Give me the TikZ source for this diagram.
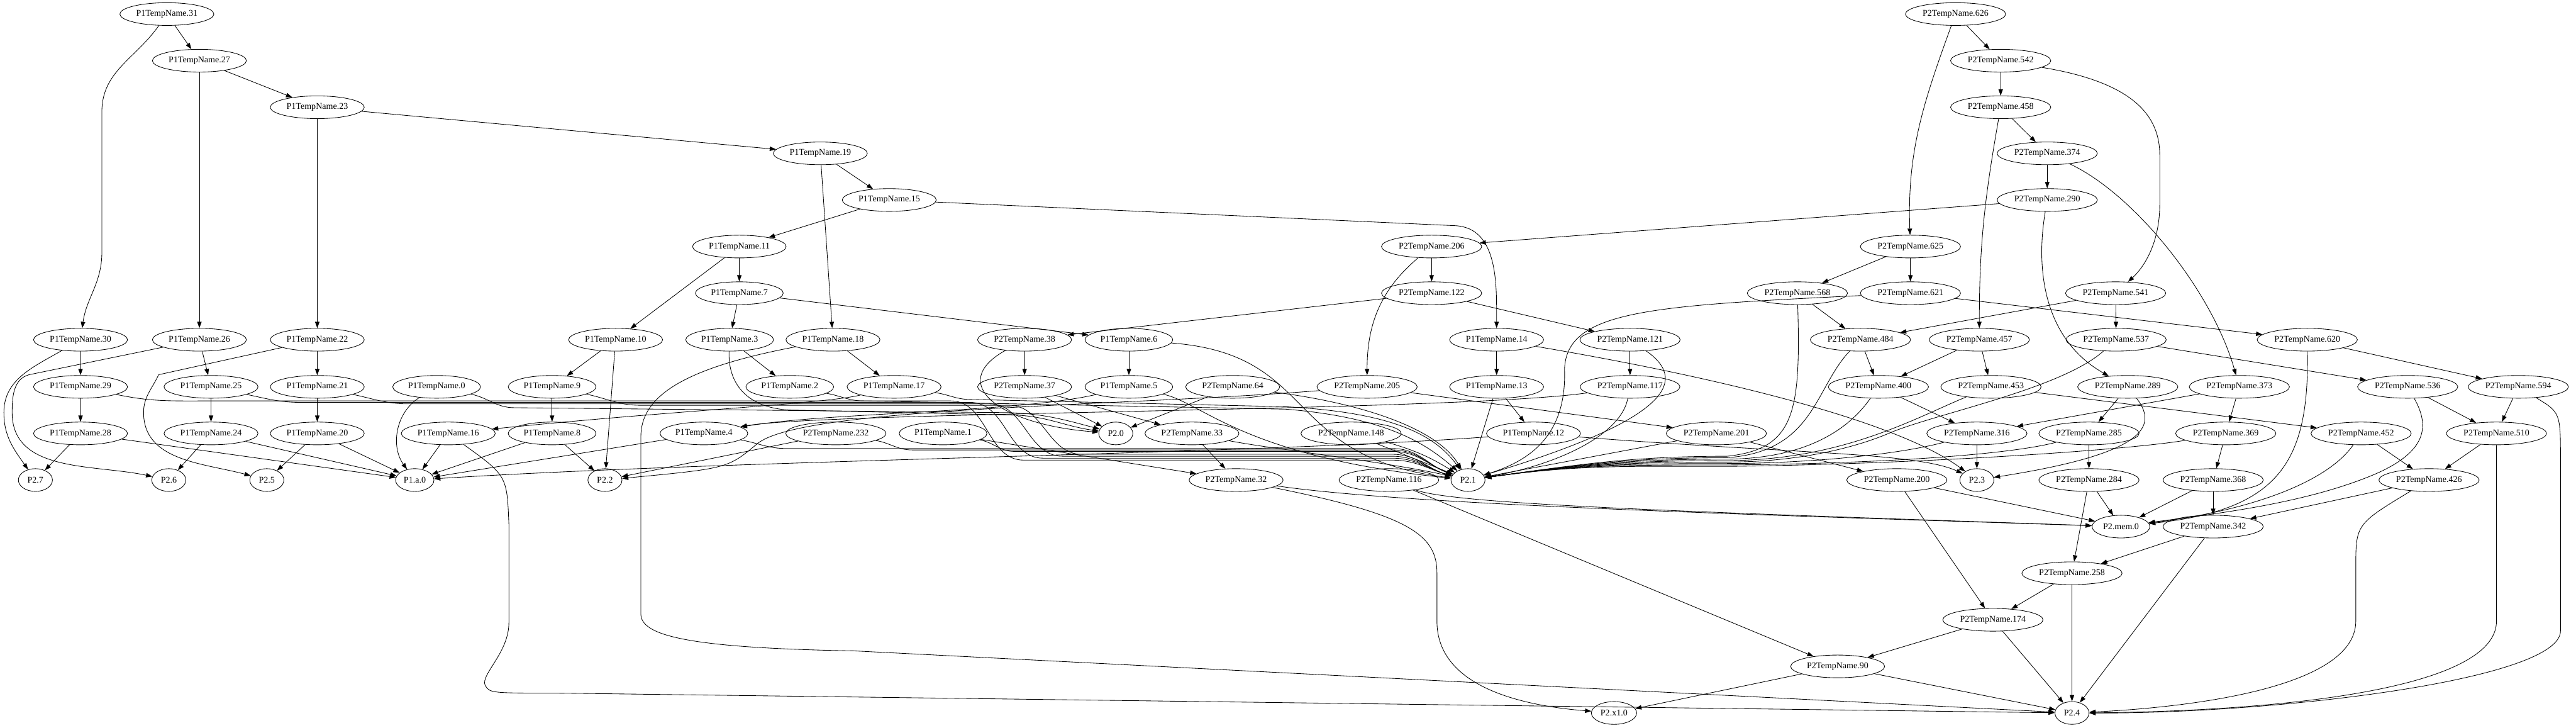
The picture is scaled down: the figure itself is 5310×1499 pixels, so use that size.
\documentclass[tikz,border=0pt]{standalone}
\usepackage{fontspec}
\setmainfont{Liberation Serif}
\usetikzlibrary{shapes.geometric, arrows.meta}

\begin{document}
\begin{tikzpicture}[x=0.7692pt, y=0.7692pt,
    tmp/.style={draw, ellipse, line width=0.85pt, minimum width=54pt, minimum height=36pt,
      inner xsep=4pt, inner ysep=1pt, font=\fontsize{14pt}{16pt}\selectfont},
    edge/.style={line width=0.85pt, -{Triangle[length=10pt, width=7pt]}}]

\path[use as bounding box] (0,0) rectangle (5310,-1499);

\foreach \n/\x/\y in {31/344/29, 27/411/125, 23/654/221, 19/1691/316, 15/1833/412,
    11/1524/508, 7/1524/604, 30/166/700, 26/411/700, 22/654/700, 10/1269/700,
    3/1504/700, 18/1717/700, 6/2327/700, 14/3085/700, 29/166/797, 25/435/797,
    21/654/797, 0/900/797, 9/1138/797, 2/1628/797, 17/1843/797, 5/2327/797,
    13/3085/797, 28/166/893, 24/435/893, 20/654/893, 16/924/893, 8/1138/893,
    4/1451/893, 1/1944/893, 12/3161/893}
  \node[tmp] (a\n) at (\x,-\y) {P1TempName.\n};

\foreach \n/\x/\y in {626/4031/29, 542/4124/125, 458/4124/221, 374/4220/316,
    290/4220/412, 206/2951/508, 625/3938/508, 122/2951/604, 568/3705/604,
    621/3938/604, 541/4361/604, 38/2112/700, 121/3360/700, 484/3835/700,
    457/4080/700, 537/4362/700, 620/4756/700, 37/2112/797, 64/2541/797,
    205/2818/797, 117/3360/797, 400/3872/797, 453/4104/797, 289/4386/797,
    373/4616/797, 536/4963/797, 594/5191/797, 232/1723/893, 33/2457/893,
    148/2785/893, 201/3538/893, 316/4075/893, 285/4306/893, 369/4588/893,
    452/4867/893, 510/5146/893, 32/2548/989, 116/2863/989, 200/3910/989,
    284/4306/989, 368/4562/989, 426/5007/989, 342/4562/1085, 258/4271/1181,
    174/4108/1277, 90/3788/1373}
  \node[tmp] (b\n) at (\x,-\y) {P2TempName.\n};

\foreach \n/\x/\y/\t in {q7/73/989/P2.7, q6/348/989/P2.6, q5/550/989/P2.5,
    qa/855/989/P1.a.0, q2/1247/989/P2.2, q0/2300/893/P2.0, q1/3026/989/P2.1,
    q3/4075/989/P2.3, qmem/4372/1085/P2.mem.0, qx/3327/1469/P2.x1.0, q4/4271/1469/P2.4}
  \node[tmp] (\n) at (\x,-\y) {\t};

\foreach \s/\t in {a31/a27, a27/a26, a27/a23, a23/a22, a23/a19, a19/a15, a19/a18,
    a15/a11, a11/a10, a11/a7, a7/a3, a7/a6, a3/a2, a30/a29, a29/a28, a28/q7, a28/qa,
    a26/a25, a25/a24, a24/q6, a24/qa, a22/a21, a21/a20, a20/q5, a20/qa, a18/a17,
    a16/qa, a14/a13, a13/a12, a13/q1, a10/a9, a10/q2, a9/a8, a8/q2, a8/qa, a6/a5,
    a4/qa, a1/b32,
    b626/b542, b542/b458, b458/b374, b374/b290, b290/b206, b625/b568, b625/b621,
    b568/b484, b621/b620, b541/b484, b541/b537, b206/b122, b122/b38, b122/b121,
    b121/b117, b484/b400, b457/b400, b457/b453, b537/b536, b620/b594, b38/b37,
    b37/q0, b37/b33, b64/q0, b205/b201, b400/b316, b453/b452, b289/b285, b373/b316,
    b373/b369, b536/b510, b594/b510, b232/q2, b33/b32, b148/q1, b201/b200, b201/q1,
    b316/q3, b285/b284, b369/b368, b452/b426, b510/b426, b200/b174, b200/qmem,
    b284/b258, b284/qmem, b368/qmem, b368/b342, b426/b342, b342/b258, b342/q4,
    b258/b174, b258/q4, b174/b90, b174/q4, b90/q4, b90/qx, b116/b90}
  \draw[edge] (\s) -- (\t);

\draw[edge] (a31) to[out=-125,in=90] (210,-230) -- (210,-520) to[out=-90,in=82] (a30);
\draw[edge] (a30) to[out=-150,in=90] (8,-850) to[out=-90,in=125] (q7);
\draw[edge] (a26) -- (60,-772) to[out=195,in=90] (25,-850) to[out=-90,in=168] (q6);
\draw[edge] (a22) -- (327,-772) to[out=-115,in=90] (296,-850) to[out=-90,in=165] (q5);
\draw[edge] (a18) .. controls (1400,-760) and (1321,-820) .. (1321,-900) -- (1321,-1265)
  .. controls (1321,-1310) and (1420,-1335) .. (1760,-1341) -- (q4);
\draw[edge] (a16) .. controls (1045,-980) .. (1049,-1080) -- (1049,-1283)
  .. controls (1049,-1345) and (990,-1390) .. (1000,-1412) .. controls (1010,-1428) .. (1150,-1428) -- (q4);
\draw[edge] (a15) -- (3000,-465) to[out=-3,in=90] (a14);
\draw[edge] (a17) .. controls (1700,-832) and (1400,-845) .. (a16);
\draw[edge] (a5) .. controls (2100,-850) and (1700,-850) .. (a4);
\draw[edge] (b117) .. controls (3000,-848) and (1700,-848) .. (a4);
\draw[edge] (a5) .. controls (2480,-830) and (2560,-940) .. (q1);
\draw[edge] (a6) .. controls (2720,-730) and (2640,-940) .. (q1);
\draw[edge] (a12) .. controls (2600,-935) and (1500,-948) .. (qa);
\draw[edge] (a12) .. controls (3700,-935) and (3950,-932) .. (q3);
\draw[edge] (a14) .. controls (3500,-770) and (3900,-860) .. (q3);
\draw[edge] (a0) .. controls (815,-850) and (805,-920) .. (qa);
\draw[edge] (a0) to[out=-12,in=180] (1060,-840) -- (2060,-850) to[out=0,in=165] (q0);
\draw[edge] (a3) .. controls (1500,-790) and (1540,-845) .. (1640,-845) -- (2080,-855) to[out=0,in=172] (q0);
\draw[edge] (b38) .. controls (1950,-790) and (2060,-875) .. (q0);
\draw[edge] (b205) .. controls (2300,-838) and (1650,-838) .. (1560,-915) .. controls (1500,-965) .. (q2);

\foreach \s/\sx/\uy/\dx/\ly in {a29/420/826/1960/948, a25/620/829/2000/944,
    a21/840/832/2040/940, a9/1320/835/2080/936}
  \draw[edge] (\s) to[out=-12,in=180] (\sx,-\uy) -- (\dx,-\uy) to[out=0,in=180] (\dx+150,-\ly)
    -- (2870,-\ly) to[out=0,in=165] (q1);
\foreach \s/\sx/\ly in {a4/1620/924, b232/1880/927, a1/2090/930}
  \draw[edge] (\s) to[out=-10,in=180] (\sx,-\ly) -- (2870,-\ly) to[out=0,in=160] (q1);
\draw[edge] (a17) to[out=-8,in=180] (2000,-823) -- (2650,-838) .. controls (2880,-850) and (2960,-900) .. (q1);
\draw[edge] (a2) to[out=-10,in=180] (1780,-826) -- (2650,-843) .. controls (2860,-860) and (2940,-915) .. (q1);
\draw[edge] (b64) .. controls (2800,-830) and (2960,-880) .. (q1);
\draw[edge] (b33) .. controls (2620,-925) and (2850,-950) .. (q1);
\draw[edge] (b148) to[bend left=8] (q1);

\draw[edge] (b626) to[out=-110,in=92] (b625);
\draw[edge] (b542) .. controls (4400,-170) and (4452,-240) .. (4452,-320) -- (4452,-420)
  .. controls (4452,-500) and (4420,-550) .. (b541);
\draw[edge] (b458) to[out=-100,in=90] (b457);
\draw[edge] (b374) .. controls (4400,-400) and (4560,-600) .. (b373);
\draw[edge] (b290) .. controls (4195,-560) and (4215,-700) .. (b289);
\draw[edge] (b206) to[out=-140,in=90] (b205);
\draw[edge] (b121) .. controls (3490,-790) and (3420,-870) .. (q1);
\draw[edge] (b117) .. controls (3340,-900) and (3200,-960) .. (q1);
\draw[edge] (b621) .. controls (3400,-630) and (3230,-640) .. (3225,-760)
  .. controls (3230,-900) and (3150,-950) .. (q1);
\draw[edge] (b568) .. controls (3712,-850) and (3700,-925) .. (3560,-940) to[out=180,in=8] (q1);
\draw[edge] (b484) .. controls (3740,-800) and (3740,-930) .. (3560,-943) to[out=180,in=8] (q1);
\draw[edge] (b400) .. controls (3800,-900) and (3700,-945) .. (3560,-946) to[out=180,in=8] (q1);
\draw[edge] (b453) .. controls (3950,-860) and (3800,-948) .. (3560,-949) to[out=180,in=8] (q1);
\draw[edge] (b537) .. controls (4250,-800) and (4000,-850) .. (3900,-890)
  .. controls (3820,-925) and (3700,-952) .. (3560,-952) to[out=180,in=8] (q1);
\draw[edge] (b316) .. controls (3900,-940) and (3700,-955) .. (3560,-955) to[out=180,in=8] (q1);
\draw[edge] (b285) .. controls (4150,-935) and (3900,-955) .. (3560,-958) to[out=180,in=8] (q1);
\draw[edge] (b369) .. controls (4400,-925) and (4000,-955) .. (3560,-961) to[out=180,in=8] (q1);
\draw[edge] (b289) .. controls (4450,-880) and (4420,-935) .. (q3);
\draw[edge] (b620) .. controls (4760,-950) and (4700,-1050) .. (qmem);
\draw[edge] (b536) .. controls (5010,-880) and (5000,-930) .. (4900,-975)
  .. controls (4750,-1040) and (4550,-1060) .. (qmem);
\draw[edge] (b452) .. controls (4800,-990) and (4650,-1050) .. (qmem);
\draw[edge] (b426) .. controls (4856,-1080) .. (4856,-1170) -- (4856,-1280)
  .. controls (4856,-1420) and (4500,-1458) .. (q4);
\draw[edge] (b510) -- (5146,-1280) .. controls (5146,-1420) and (4700,-1465) .. (q4);
\draw[edge] (b594) .. controls (5278,-850) .. (5278,-950) -- (5278,-1300)
  .. controls (5278,-1400) and (4700,-1470) .. (q4);
\draw[edge] (b32) .. controls (2900,-1040) and (3600,-1060) .. (qmem);
\draw[edge] (b32) .. controls (2900,-1060) and (2962,-1100) .. (2962,-1180) -- (2962,-1280)
  .. controls (2962,-1420) and (3150,-1455) .. (qx);
\draw[edge] (b116) .. controls (3000,-1040) and (3500,-1055) .. (qmem);
\end{tikzpicture}
\end{document}
